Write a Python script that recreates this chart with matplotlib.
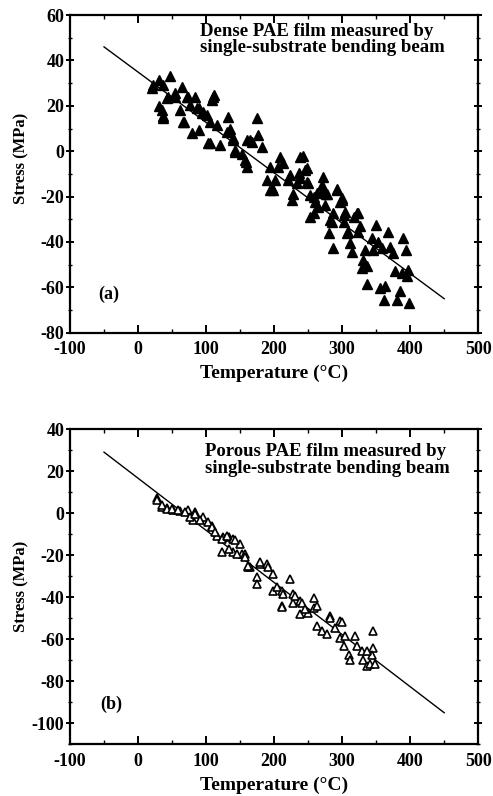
import matplotlib
matplotlib.use("Agg")
import matplotlib.pyplot as plt
from matplotlib.ticker import MultipleLocator

# Panel (a): dense PAE film
dense_T = [21.5, 31, 47, 31, 37, 44.6, 54, 64, 61, 74, 84, 68, 79, 89, 86, 96, 110, 103, 120.6,
           106, 116, 135, 132, 140, 152.5, 159, 174.5, 177, 167, 182, 194, 209, 213, 242, 248, 236,
           223, 189, 201.5, 248, 272.5, 292, 263, 277.5, 299.5,
           194, 228, 250, 270, 258, 277, 292, 299.5, 258, 253, 287, 282, 302, 324, 317, 326.5, 307,
           280, 350, 368, 343.5, 353, 312, 287, 314, 334, 346, 358, 370.6, 375, 390, 394, 331, 336,
           329, 378, 388, 397.5, 395, 337, 356, 363, 385, 361, 380, 399,
           20, 37, 42, 54, 71.6, 108, 111, 35, 37, 76.5, 89, 94, 66.6, 101, 142.6, 130.5, 160,
           106, 140, 142.6, 157, 160, 165, 238, 196.6, 221, 226, 233, 245.6,
           199, 206, 238, 270, 253, 260, 297, 265, 275, 304.4, 321.6, 284.8, 302, 309, 324]
dense_S = [29.2, 31.4, 33.1, 20, 15.5, 24, 24, 28.4, 18, 24, 24, 13, 8, 9.4, 19, 17.4, 23.8, 3.5, 2.8,
           13, 11.6, 10, 15, 5, -1, -4.6, 14.5, 7, 4.2, 2, -6.8, -2.4, -5, -2, -7.4, -9.6,
           -10.5, -12.6, -12.6, -13.4, -11.2, -17, -18.4, -19, -20.6,
           -17, -19, -14, -15, -20, -19, -16.8, -21.5, -27.3, -28.8, -27.3, -30.3, -28, -27.3, -28.8, -33, -36,
           -35.9, -32.5, -35.4, -38.3, -39.8, -40.5, -42.7, -44.2, -43.5, -43.5, -42.7, -42, -45, -38.3, -43.5, -47.9, -50.8,
           -51.5, -53, -53.7, -52.3, -55.2, -58.5, -60.4, -59.3, -61.8, -65.5, -65.5, -67,
           27.7, 29.2, 23.3, 25.5, 24, 22.6, 24.8, 18, 14.5, 20.4, 19, 16.7, 13, 16, 0.6, 8.6, 5,
           3.5, 5.7, -0.2, -3.8, -6.8, 5, -2.4, -16.3, -12.6, -21.5, -14, -8.3,
           -17, -6.8, -12, -17.8, -19.3, -22.2, -22.2, -24.4, -23.7, -26.6, -27.3, -31, -31, -35.4, -35.4]
dense_fit_T = [-50, 450]
dense_fit_S = [46, -65]

# Panel (b): porous PAE film
porous_T = [27.5, 35, 42, 52, 62, 74, 84, 96, 81, 108, 116, 125.5, 133, 140, 150, 123, 140, 152.5,
            165, 174.5, 179, 189, 199, 174.5, 199, 211, 223.5, 228, 211, 238, 258, 258, 282, 297,
            211, 228, 238, 250.5, 263, 263, 270, 277.5, 282, 290, 299.5, 297, 304, 302, 309.5, 312,
            319, 321.6, 329, 331, 336, 341, 346, 346, 348.5, 343.5, 336,
            145, 157, 162, 179, 191.6, 204, 213.7, 231, 240.7, 245.6,
            27.5, 35, 42, 49.6, 59, 69, 76.5, 84, 91, 103.4, 108, 113, 123, 130.5, 142.6, 133, 157, 162]
porous_S = [7.4, 2.9, 2.6, 1.3, 1, 1.3, 0.5, -1.9, -3.5, -5.9, -10.7, -11.5, -11.5, -12.3, -14.6, -18.7, -18.7, -19.4,
            -25.8, -30.6, -24.2, -24.2, -29, -33.8, -37, -37, -31.4, -38.6, -44, -41.8, -40.2, -45, -49, -51.3,
            -44.6, -42.6, -48, -47.4, -44, -53.7, -56, -57.7, -49.8, -54.5, -52, -59.3, -58.5, -63.3, -67.3, -69.7,
            -58.5, -63.3, -65.7, -69.7, -72.9, -72, -56, -64, -72, -67.3, -65.7,
            -19.4, -19.4, -25.8, -23.4, -25.8, -35.4, -38.6, -39.4, -42.6, -45.7,
            6, 3.7, 2, 2, 1.3, 0.5, -1.9, -0.3, -3.5, -4.3, -6.7, -9, -12.3, -10.7, -13, -17, -21, -25]
porous_fit_T = [-50, 450]
porous_fit_S = [29, -95]

x_ticks = [-100, 0, 100, 200, 300, 400, 500]
dense_yticks = [-80, -60, -40, -20, 0, 20, 40, 60]
porous_yticks = [-100, -80, -60, -40, -20, 0, 20, 40]

plt.rcParams['font.family'] = ['Liberation Serif', 'DejaVu Serif']
plt.rcParams['font.weight'] = 'bold'
plt.rcParams['axes.unicode_minus'] = False

fig = plt.figure(figsize=(4.93, 7.96), dpi=100)
ax1 = fig.add_axes([0.142, 0.582, 0.828, 0.399])
ax2 = fig.add_axes([0.142, 0.065, 0.828, 0.396])


def style(ax, yticks, ylim, ylab_y):
    ax.set_xlim(-100, 500)
    ax.set_ylim(*ylim)
    ax.set_xticks(x_ticks)
    ax.set_yticks(yticks)
    ax.xaxis.set_minor_locator(MultipleLocator(50))
    ax.yaxis.set_minor_locator(MultipleLocator(10))
    for s in ax.spines.values():
        s.set_linewidth(1.6)
    ax.tick_params(axis='x', which='both', direction='in', top=True, bottom=True)
    ax.tick_params(axis='y', which='both', direction='inout', left=True, right=True)
    ax.tick_params(which='major', length=6, width=1.4, labelsize=13)
    ax.tick_params(axis='x', which='major', pad=6)
    ax.tick_params(axis='y', which='major', pad=1)
    ax.tick_params(which='minor', length=3, width=1.0)
    for lab in ax.get_xticklabels() + ax.get_yticklabels():
        lab.set_fontweight('bold')
    ax.set_xlabel('Temperature (°C)', fontsize=14, fontweight='bold', labelpad=5)
    ax.set_ylabel('Stress (MPa)', fontsize=12, fontweight='bold')
    ax.yaxis.set_label_coords(-0.10, ylab_y)


ax1.plot(dense_fit_T, dense_fit_S, color='black', lw=1.0, zorder=2)
ax1.plot(dense_T, dense_S, linestyle='none', marker='^', markersize=7.5,
         color='black', zorder=3)
style(ax1, dense_yticks, (-80, 60), 0.55)
ax1.text(0.319, 0.975, 'Dense PAE film measured by\nsingle-substrate bending beam',
         transform=ax1.transAxes, ha='left', va='top', fontsize=13.5,
         fontweight='bold', linespacing=0.95)
ax1.text(0.07, 0.12, '(a)', transform=ax1.transAxes, ha='left', va='center',
         fontsize=13, fontweight='bold')

ax2.plot(porous_fit_T, porous_fit_S, color='black', lw=1.0, zorder=2)
ax2.plot(porous_T, porous_S, linestyle='none', marker='^', markersize=6,
         markerfacecolor='white', markeredgecolor='black', markeredgewidth=1.2, zorder=3)
style(ax2, porous_yticks, (-110, 40), 0.5)
ax2.text(0.331, 0.955, 'Porous PAE film measured by\nsingle-substrate bending beam',
         transform=ax2.transAxes, ha='left', va='top', fontsize=13.5,
         fontweight='bold', linespacing=0.95)
ax2.text(0.075, 0.127, '(b)', transform=ax2.transAxes, ha='left', va='center',
         fontsize=13, fontweight='bold')

fig.savefig('out.png', dpi=100)
